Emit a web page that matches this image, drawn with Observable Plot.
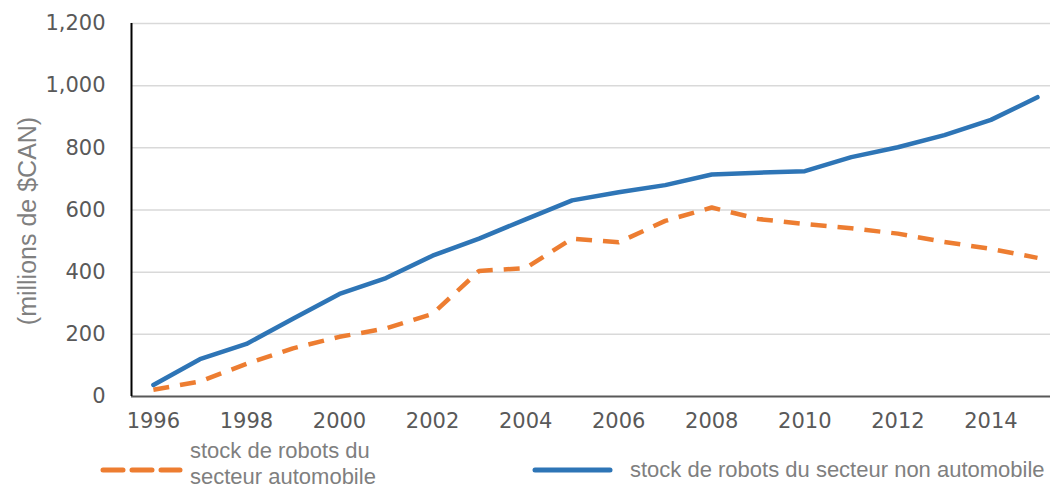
<!DOCTYPE html>
<html>
<head>
<meta charset="utf-8">
<script src="https://cdn.jsdelivr.net/npm/d3@7"></script>
<script src="https://cdn.jsdelivr.net/npm/@observablehq/plot@0.6"></script>
<style>
  html, body { margin: 0; padding: 0; background: #fff; }
  #wrap { position: relative; width: 1053px; height: 491px; overflow: hidden; }
  #chart svg text { font-family: "DejaVu Sans", Verdana, sans-serif !important; font-size: 21px !important; fill: #595959; }
  #ylabel { position: absolute; left: 27px; top: 221px; transform: translate(-50%, -50%) rotate(-90deg);
    white-space: nowrap; font-family: "Liberation Sans Narrow", "Liberation Sans", sans-serif; font-size: 25px; color: #7f7f7f; }
  .leg { position: absolute; white-space: nowrap; font-family: "Liberation Sans Narrow", "Liberation Sans", sans-serif; font-size: 22px; color: #7f7f7f; line-height: 26px; }
</style>
</head>
<body>
<div id="wrap">
  <div id="chart"></div>
  <div id="ylabel"></div>
  <svg id="legsvg" width="1053" height="491" style="position:absolute;left:0;top:0;pointer-events:none"></svg>
  <div class="leg" id="leg1" style="left:190px; top:438px;"></div>
  <div class="leg" id="leg2" style="left:630px; top:457px;"></div>
</div>
<script>
const years = [1996, 1997, 1998, 1999, 2000, 2001, 2002, 2003, 2004, 2005, 2006, 2007, 2008, 2009, 2010, 2011, 2012, 2013, 2014, 2015];
const automobile = [22, 48, 105, 155, 192, 219, 266, 404, 413, 508, 496, 565, 608, 571, 555, 541, 524, 497, 475, 446];
const nonAutomobile = [37, 120, 169, 250, 330, 381, 453, 508, 570, 631, 657, 680, 714, 720, 725, 770, 802, 841, 890, 963];
const xTicks = [1996, 1998, 2000, 2002, 2004, 2006, 2008, 2010, 2012, 2014];
const yTicks = [0, 200, 400, 600, 800, 1000, 1200];
const seriesNames = ["stock de robots du secteur automobile", "stock de robots du secteur non automobile"];
const yTitle = "(millions de $CAN)";
const colors = ["#ED7D31", "#2E75B6"];

const autoData = years.map((y, i) => ({year: y, value: automobile[i]}));
const nonAutoData = years.map((y, i) => ({year: y, value: nonAutomobile[i]}));

const xDomain = [1995.53, 2015.28];

const chart = Plot.plot({
  width: 1053,
  height: 440,
  marginLeft: 131,
  marginRight: 3,
  marginTop: 23,
  marginBottom: 44,
  style: {fontFamily: "'DejaVu Sans', sans-serif", fontSize: "21px", color: "#595959", background: "#fff"},
  x: {domain: xDomain, ticks: xTicks, tickFormat: d => String(d), tickSize: 0, tickPadding: 17, label: null},
  y: {domain: [0, 1200], ticks: yTicks, tickFormat: d3.format(","), tickSize: 0, tickPadding: 26, label: null},
  marks: [
    Plot.ruleY(yTicks.filter(d => d > 0), {stroke: "#d9d9d9", strokeWidth: 1.5}),
    Plot.line(autoData, {x: "year", y: "value", stroke: colors[0], strokeWidth: 4.5, strokeDasharray: "16,11", strokeLinecap: "butt"}),
    Plot.line(nonAutoData, {x: "year", y: "value", stroke: colors[1], strokeWidth: 4.5, strokeLinejoin: "round"}),
    Plot.ruleY([0], {stroke: "#595959", strokeWidth: 2}),
    Plot.ruleX([xDomain[0]], {stroke: "#000", strokeWidth: 2})
  ]
});
document.getElementById("chart").appendChild(chart);
document.getElementById("ylabel").textContent = yTitle;
document.getElementById("leg1").innerHTML = "stock de robots du<br>secteur automobile";
document.getElementById("leg2").textContent = seriesNames[1];

const leg = d3.select("#legsvg");
leg.append("line").attr("x1", 103).attr("x2", 180).attr("y1", 470).attr("y2", 470)
  .attr("stroke", colors[0]).attr("stroke-width", 5).attr("stroke-dasharray", "20,9").attr("stroke-linecap", "round");
leg.append("line").attr("x1", 535).attr("x2", 610).attr("y1", 470).attr("y2", 470)
  .attr("stroke", colors[1]).attr("stroke-width", 5).attr("stroke-linecap", "round");
</script>
</body>
</html>
